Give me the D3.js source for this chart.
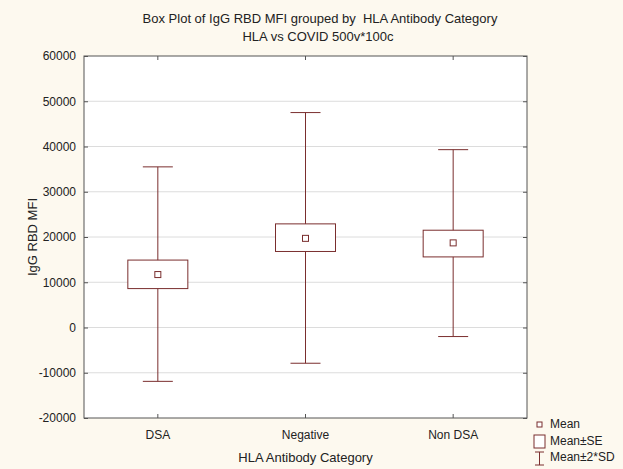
<!DOCTYPE html>
<html>
<head>
<meta charset="utf-8">
<script src="https://cdn.jsdelivr.net/npm/d3@7"></script>
<style>
  html, body { margin: 0; padding: 0; background: #fdf9ef; overflow: hidden; }
  svg { display: block; }
  text { font-family: "Liberation Sans", Arial, sans-serif; fill: #222; white-space: pre; }
</style>
</head>
<body>
<svg id="chart" width="623" height="469"></svg>
<script>
// Data
const categories = ["DSA", "Negative", "Non DSA"];
const means      = [11700, 19700, 18700];
const seLow      = [8600, 16800, 15600];
const seHigh     = [14900, 22900, 21500];
const sdLow      = [-11900, -7900, -2000];
const sdHigh     = [35500, 47500, 39300];
const yTicks     = [-20000, -10000, 0, 10000, 20000, 30000, 40000, 50000, 60000];

const data = categories.map((c, i) => ({
  cat: c, mean: means[i], lo: seLow[i], hi: seHigh[i], min: sdLow[i], max: sdHigh[i]
}));

const svg = d3.select("#chart"),
      width = +svg.attr("width"),
      height = +svg.attr("height"),
      margin = { top: 56, right: 96, bottom: 51, left: 84 },
      innerWidth = width - margin.left - margin.right,
      innerHeight = height - margin.top - margin.bottom;

const color = "#7a2e2e";

const x = d3.scaleBand().domain(categories).range([0, innerWidth]);
const y = d3.scaleLinear().domain([-20000, 60000]).range([innerHeight, 0]);

const g = svg.append("g").attr("transform", `translate(${margin.left},${margin.top})`);

// plot background
g.append("rect")
  .attr("width", innerWidth).attr("height", innerHeight)
  .attr("fill", "#fff");

// gridlines
g.append("g")
  .selectAll("line")
  .data(yTicks.slice(1, -1))
  .join("line")
  .attr("x1", 0).attr("x2", innerWidth)
  .attr("y1", d => y(d)).attr("y2", d => y(d))
  .attr("stroke", "#dcdcdc");

// axes
const yAxis = g.append("g")
  .call(d3.axisLeft(y).tickValues(yTicks).tickSize(-4).tickPadding(8).tickFormat(d => String(d)));
yAxis.attr("font-size", 12).attr("font-family", null);
yAxis.select(".domain").remove();
yAxis.selectAll("line").attr("stroke", "#555");
yAxis.selectAll("text").attr("fill", "#222");

const yAxisR = g.append("g").attr("transform", `translate(${innerWidth},0)`)
  .call(d3.axisRight(y).tickValues(yTicks).tickSize(-4).tickFormat(""));
yAxisR.select(".domain").remove();
yAxisR.selectAll("line").attr("stroke", "#555");

const xAxis = g.append("g").attr("transform", `translate(0,${innerHeight})`)
  .call(d3.axisBottom(x).tickSize(-4).tickPadding(12));
xAxis.attr("font-size", 12).attr("font-family", null);
xAxis.select(".domain").remove();
xAxis.selectAll("line").attr("stroke", "#555");
xAxis.selectAll("text").attr("fill", "#222");

const xAxisT = g.append("g")
  .call(d3.axisTop(x).tickSize(-4).tickFormat(""));
xAxisT.select(".domain").remove();
xAxisT.selectAll("line").attr("stroke", "#555");

// frame
g.append("rect")
  .attr("width", innerWidth).attr("height", innerHeight)
  .attr("fill", "none").attr("stroke", "#555");

// boxes
const boxW = 60, capW = 30, markW = 6;
const box = g.selectAll(".box").data(data).join("g")
  .attr("class", "box")
  .attr("transform", d => `translate(${x(d.cat) + x.bandwidth() / 2},0)`);

box.append("line")
  .attr("x1", 0).attr("x2", 0)
  .attr("y1", d => y(d.max)).attr("y2", d => y(d.min))
  .attr("stroke", color);
box.append("line")
  .attr("x1", -capW / 2).attr("x2", capW / 2)
  .attr("y1", d => y(d.max)).attr("y2", d => y(d.max))
  .attr("stroke", color);
box.append("line")
  .attr("x1", -capW / 2).attr("x2", capW / 2)
  .attr("y1", d => y(d.min)).attr("y2", d => y(d.min))
  .attr("stroke", color);
box.append("rect")
  .attr("x", -boxW / 2).attr("width", boxW)
  .attr("y", d => y(d.hi)).attr("height", d => y(d.lo) - y(d.hi))
  .attr("fill", "#fff").attr("stroke", color);
box.append("rect")
  .attr("x", -markW / 2).attr("width", markW)
  .attr("y", d => y(d.mean) - markW / 2).attr("height", markW)
  .attr("fill", "#fff").attr("stroke", color);

// titles
svg.append("text").attr("x", 320).attr("y", 23).attr("text-anchor", "middle")
  .attr("font-size", 13).text("Box Plot of IgG RBD MFI grouped by  HLA Antibody Category");
svg.append("text").attr("x", 318).attr("y", 41).attr("text-anchor", "middle")
  .attr("font-size", 13).text("HLA vs COVID 500v*100c");
svg.append("text").attr("x", margin.left + innerWidth / 2).attr("y", 462).attr("text-anchor", "middle")
  .attr("font-size", 13).text("HLA Antibody Category");
svg.append("text")
  .attr("transform", `translate(37,${margin.top + innerHeight / 2}) rotate(-90)`)
  .attr("text-anchor", "middle")
  .attr("font-size", 13).text("IgG RBD MFI");

// legend
const lg = svg.append("g").attr("transform", "translate(534,419)");
lg.append("rect").attr("x", 3).attr("y", 3).attr("width", 5).attr("height", 5)
  .attr("fill", "#fff").attr("stroke", color);
lg.append("text").attr("x", 16).attr("y", 9).attr("font-size", 12).text("Mean");
lg.append("rect").attr("x", 0).attr("y", 16).attr("width", 11).attr("height", 13)
  .attr("fill", "#fff").attr("stroke", color);
lg.append("text").attr("x", 16).attr("y", 26).attr("font-size", 12).text("Mean±SE");
lg.append("line").attr("x1", 5.5).attr("x2", 5.5).attr("y1", 33).attr("y2", 46).attr("stroke", color);
lg.append("line").attr("x1", 1).attr("x2", 10).attr("y1", 33).attr("y2", 33).attr("stroke", color);
lg.append("line").attr("x1", 1).attr("x2", 10).attr("y1", 46).attr("y2", 46).attr("stroke", color);
lg.append("text").attr("x", 16).attr("y", 42).attr("font-size", 12).text("Mean±2*SD");
</script>
</body>
</html>
